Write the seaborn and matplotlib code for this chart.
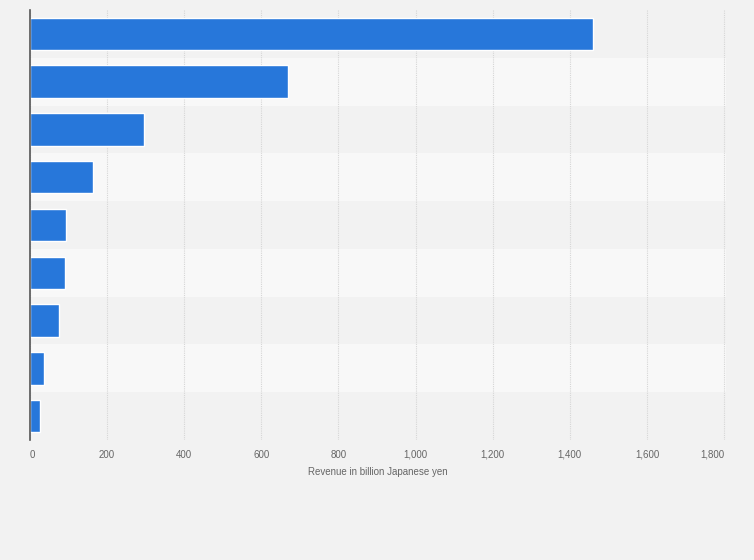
import matplotlib
matplotlib.use("Agg")
import matplotlib.pyplot as plt
import seaborn as sns
import pandas as pd

categories = ["Item 1", "Item 2", "Item 3", "Item 4", "Item 5",
              "Item 6", "Item 7", "Item 8", "Item 9"]
revenue = [1460, 669, 296, 163, 94, 91, 75, 36, 26]
x_ticks = [0, 200, 400, 600, 800, 1000, 1200, 1400, 1600, 1800]
x_tick_labels = ["0", "200", "400", "600", "800", "1,000", "1,200", "1,400", "1,600", "1,800"]
x_label = "Revenue in billion Japanese yen"

df = pd.DataFrame({"category": categories, "revenue": revenue})

sns.set_theme(style="white")
plt.rcParams['font.family'] = ['Liberation Sans', 'DejaVu Sans']

fig = plt.figure(figsize=(7.54, 5.6), dpi=100, facecolor="#f2f2f2")
ax = fig.add_axes([30/754, 1 - 440/560, 696/754, 430/560])
ax.set_facecolor("#f2f2f2")

# alternating row bands
for i in range(len(categories)):
    if i % 2 == 1:
        ax.axhspan(i - 0.5, i + 0.5, color="#f8f8f8", zorder=0, lw=0)

sns.barplot(data=df, x="revenue", y="category", color="#2777da",
            saturation=1, width=0.68, ax=ax, zorder=3)

ax.set_xlim(0, 1805)
ax.set_ylim(len(categories) - 0.5, -0.5)
ax.set_xticks(x_ticks)
ax.set_xticklabels(x_tick_labels, fontsize=7, color="#666666")
ax.tick_params(axis="x", length=0, pad=7)
labels = ax.get_xticklabels()
labels[0].set_horizontalalignment("left")
labels[-1].set_horizontalalignment("right")
ax.set_yticks([])
ax.set_ylabel("")
ax.set_xlabel(x_label, fontsize=7, color="#666666", labelpad=5)

ax.grid(axis="x", color="#d6d6d6", linestyle=(0, (1, 1)), linewidth=0.8, zorder=1)
ax.set_axisbelow(True)
for s in ["top", "right", "bottom"]:
    ax.spines[s].set_visible(False)
ax.spines["left"].set_color("#555555")
ax.spines["left"].set_linewidth(1.2)
ax.spines["left"].set_zorder(5)

fig.savefig("out.png", dpi=100, facecolor=fig.get_facecolor())
